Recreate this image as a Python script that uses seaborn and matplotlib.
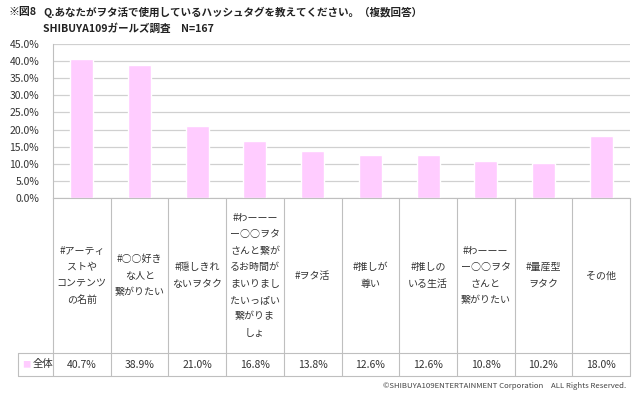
import seaborn as sns
import matplotlib.pyplot as plt
import matplotlib.transforms as mtransforms

# chart data
categories = ["#アーティ\nストや\nコンテンツ\nの名前", "#○○好き\nな人と\n繋がりたい", "#隠しきれ\nないヲタク",
              "#わーーー\nー○○ヲタ\nさんと繋が\nるお時間が\nまいりまし\nたいっぱい\n繋がりま\nしょ",
              "#ヲタ活", "#推しが\n尊い", "#推しの\nいる生活", "#わーーー\nー○○ヲタ\nさんと\n繋がりたい",
              "#量産型\nヲタク", "その他"]
values = [40.7, 38.9, 21.0, 16.8, 13.8, 12.6, 12.6, 10.8, 10.2, 18.0]
series_name = "全体"
yticks = [0, 5, 10, 15, 20, 25, 30, 35, 40, 45]
fig_no = "※図8"
title1 = "Q.あなたがヲタ活で使用しているハッシュタグを教えてください。（複数回答）"
title2 = "SHIBUYA109ガールズ調査　N=167"
copyright = "©SHIBUYA109ENTERTAINMENT Corporation　ALL Rights Reserved."

sns.set_style("white")
plt.rcParams['font.family'] = ['Noto Sans CJK JP', 'DejaVu Sans']

pink = "#FFCCFF"
line_c = "#BFBFBF"
txt_c = "#333333"

fig = plt.figure(figsize=(6.4, 3.97), dpi=100)
ax = fig.add_axes([53/640, 1-198/397, 577/640, 154/397])

xs = list(range(len(values)))
sns.barplot(x=xs, y=values, color=pink, width=0.4, saturation=1, ax=ax)
ax.set_xlim(-0.5, len(values)-0.5)
ax.set_ylim(0, 45)
ax.set_yticks(yticks)
ax.set_yticklabels([f"{t:.1f}%" for t in yticks], fontsize=7.5, color=txt_c)
ax.tick_params(axis='y', length=0, pad=10)
ax.set_xticks([])
ax.yaxis.grid(True, color="#D0D0D0", linewidth=0.9)
ax.set_axisbelow(True)
for s in ["top", "right"]:
    ax.spines[s].set_visible(False)
ax.spines["left"].set_color(line_c)
ax.spines["bottom"].set_color(line_c)
ax.set_xlabel("")
ax.set_ylabel("")

# table under the chart
tr = mtransforms.blended_transform_factory(ax.transData, ax.transAxes)
row1 = -(353-198)/154
row2 = -(376-198)/154
leg_x = -0.5 - 35/57.7
for i in range(len(values)+1):
    ax.plot([i-0.5, i-0.5], [0, row2], color=line_c, lw=0.8, transform=tr, clip_on=False)
ax.plot([leg_x, len(values)-0.5], [row1, row1], color=line_c, lw=0.8, transform=tr, clip_on=False)
ax.plot([leg_x, len(values)-0.5], [row2, row2], color=line_c, lw=0.8, transform=tr, clip_on=False)
ax.plot([leg_x, leg_x], [row1, row2], color=line_c, lw=0.8, transform=tr, clip_on=False)

for i, (c, v) in enumerate(zip(categories, values)):
    ax.text(i, row1/2, c, ha='center', va='center', fontsize=7.2, linespacing=1.8,
            color=txt_c, transform=tr, clip_on=False)
    ax.text(i, (row1+row2)/2, f"{v:.1f}%", ha='center', va='center', fontsize=7.5,
            color=txt_c, transform=tr, clip_on=False)

ax.text(leg_x + 0.08, (row1+row2)/2, "■", ha='left', va='center', fontsize=6,
        color=pink, transform=tr, clip_on=False)
ax.text(leg_x + 0.25, (row1+row2)/2, series_name, ha='left', va='center', fontsize=7.5,
        color=txt_c, transform=tr, clip_on=False)

fig.text(8/640, 1-12/397, fig_no, fontsize=7.8, fontweight='bold', va='center', color="#222222")
fig.text(43/640, 1-12/397, title1, fontsize=7.6, fontweight='bold', va='center', color="#222222")
fig.text(43/640, 1-28/397, title2, fontsize=7.6, fontweight='bold', va='center', color="#222222")
fig.text(626/640, 1-386/397, copyright, fontsize=5.6, ha='right', va='center', color="#444444")

fig.savefig("out.png", dpi=100)
